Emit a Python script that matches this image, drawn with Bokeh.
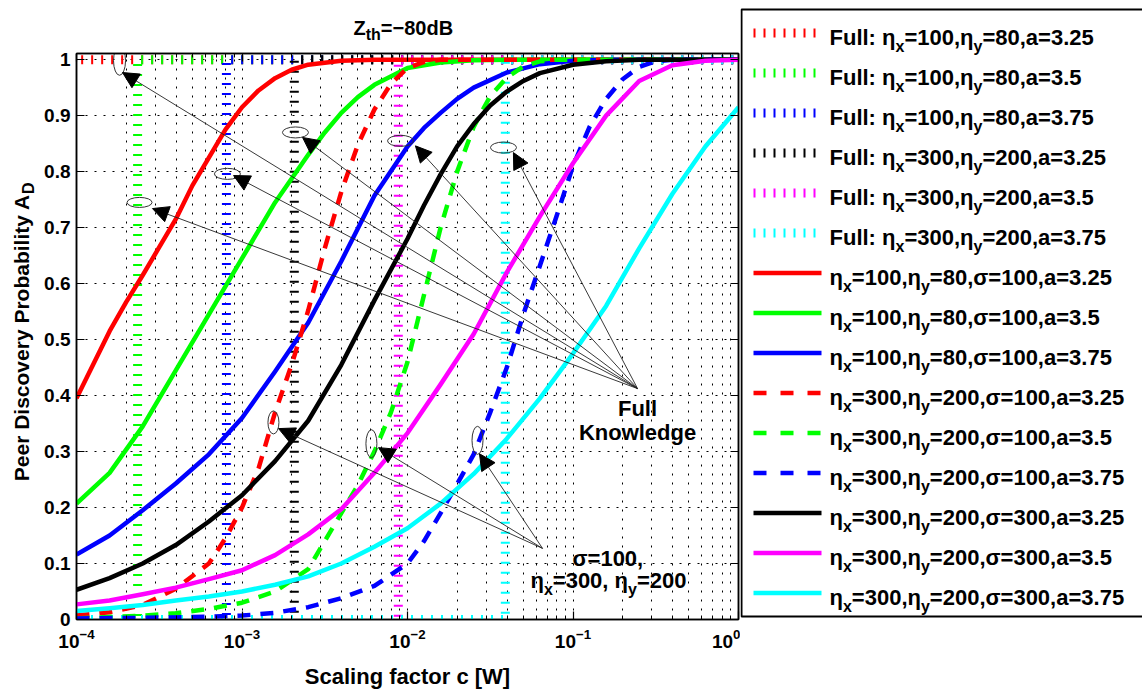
import numpy as np
from bokeh.plotting import figure
from bokeh.layouts import row, column
from bokeh.models import (Range1d, FixedTicker, Label, Arrow, NormalHead,
                          ColumnDataSource, LinearAxis)
from bokeh.core.properties import value
from bokeh.embed import file_html
from bokeh.resources import INLINE

FONT = "Liberation Sans"

# ---------------- data (x as log10 of c [W]) ----------------
red_solid_exp = [-4.0, -3.9, -3.8, -3.7, -3.6, -3.5, -3.4, -3.3, -3.2, -3.1, -3.0, -2.9, -2.8, -2.7, -2.6, -2.4, -2.2, 0.0]
red_solid_val = [0.395, 0.455, 0.515, 0.567, 0.615, 0.665, 0.715, 0.775, 0.825, 0.875, 0.915, 0.945, 0.967, 0.982, 0.991, 0.998, 1.0, 1.0]

green_solid_exp = [-4.0, -3.8, -3.6, -3.4, -3.2, -3.0, -2.8, -2.6, -2.5, -2.4, -2.3, -2.2, -2.0, -1.8, -1.6, -1.4, 0.0]
green_solid_val = [0.207, 0.262, 0.345, 0.445, 0.545, 0.645, 0.745, 0.83, 0.87, 0.905, 0.933, 0.955, 0.985, 0.995, 0.999, 1.0, 1.0]

blue_solid_exp = [-4.0, -3.8, -3.6, -3.4, -3.2, -3.0, -2.8, -2.6, -2.4, -2.2, -2.0, -1.9, -1.8, -1.7, -1.6, -1.4, -1.2, -1.0, -0.8, 0.0]
blue_solid_val = [0.116, 0.15, 0.195, 0.243, 0.295, 0.36, 0.443, 0.53, 0.64, 0.757, 0.845, 0.878, 0.905, 0.93, 0.95, 0.977, 0.992, 0.998, 1.0, 1.0]

red_dash_exp = [-4.0, -3.8, -3.6, -3.4, -3.2, -3.1, -3.0, -2.9, -2.8, -2.7, -2.6, -2.5, -2.4, -2.3, -2.2, -2.1, -2.0, -1.9, -1.8, 0.0]
red_dash_val = [0.007, 0.013, 0.026, 0.055, 0.1, 0.145, 0.2, 0.27, 0.37, 0.455, 0.552, 0.663, 0.764, 0.848, 0.911, 0.957, 0.985, 0.996, 1.0, 1.0]

green_dash_exp = [-4.0, -3.6, -3.4, -3.2, -3.0, -2.8, -2.6, -2.5, -2.4, -2.3, -2.2, -2.1, -2.0, -1.9, -1.8, -1.7, -1.6, -1.5, -1.4, -1.3, -1.2, -1.1, 0.0]
green_dash_val = [0.002, 0.007, 0.011, 0.019, 0.03, 0.05, 0.09, 0.14, 0.19, 0.24, 0.3, 0.37, 0.46, 0.58, 0.7, 0.8, 0.88, 0.935, 0.968, 0.988, 0.997, 1.0, 1.0]

blue_dash_exp = [-4.0, -3.6, -3.2, -3.0, -2.8, -2.6, -2.4, -2.2, -2.0, -1.9, -1.8, -1.7, -1.6, -1.5, -1.4, -1.3, -1.2, -1.1, -1.0, -0.9, -0.8, -0.7, -0.6, -0.5, -0.4, 0.0]
blue_dash_val = [0.002, 0.003, 0.005, 0.007, 0.012, 0.022, 0.038, 0.06, 0.1, 0.14, 0.19, 0.242, 0.295, 0.37, 0.45, 0.545, 0.632, 0.72, 0.81, 0.88, 0.93, 0.965, 0.987, 0.997, 1.0, 1.0]

black_solid_exp = [-4.0, -3.8, -3.6, -3.4, -3.2, -3.0, -2.8, -2.6, -2.4, -2.2, -2.0, -1.9, -1.8, -1.7, -1.6, -1.5, -1.4, -1.3, -1.2, -1.0, -0.8, -0.6, 0.0]
black_solid_val = [0.053, 0.074, 0.1, 0.133, 0.175, 0.222, 0.283, 0.355, 0.455, 0.57, 0.68, 0.74, 0.795, 0.845, 0.885, 0.918, 0.943, 0.962, 0.976, 0.991, 0.997, 1.0, 1.0]

magenta_solid_exp = [-4.0, -3.8, -3.6, -3.4, -3.2, -3.0, -2.8, -2.6, -2.4, -2.2, -2.0, -1.8, -1.6, -1.4, -1.2, -1.0, -0.8, -0.6, -0.4, -0.2, 0.0]
magenta_solid_val = [0.027, 0.034, 0.045, 0.057, 0.072, 0.088, 0.115, 0.152, 0.197, 0.262, 0.333, 0.42, 0.51, 0.62, 0.72, 0.815, 0.9, 0.962, 0.99, 0.998, 1.0]

cyan_solid_exp = [-4.0, -3.8, -3.6, -3.4, -3.2, -3.0, -2.8, -2.6, -2.4, -2.2, -2.0, -1.8, -1.6, -1.4, -1.2, -1.0, -0.8, -0.6, -0.4, -0.2, 0.0]
cyan_solid_val = [0.015, 0.02, 0.026, 0.034, 0.041, 0.05, 0.062, 0.077, 0.1, 0.13, 0.163, 0.207, 0.26, 0.323, 0.395, 0.475, 0.56, 0.663, 0.76, 0.845, 0.915]

# full-knowledge step thresholds (c at which A_D jumps 0 -> 1)
full_threshold = [7.0e-5, 2.34e-4, 8.05e-4, 2.07e-3, 8.8e-3, 3.9e-2]
full_colors = ["#ff0000", "#00ff00", "#0000ff", "#000000", "#ff00ff", "#00ffff"]
full_eta_x = ["100", "100", "100", "300", "300", "300"]
full_eta_y = ["80", "80", "80", "200", "200", "200"]
full_a = ["3.25", "3.5", "3.75", "3.25", "3.5", "3.75"]

curve_exps = [red_solid_exp, green_solid_exp, blue_solid_exp, red_dash_exp, green_dash_exp,
              blue_dash_exp, black_solid_exp, magenta_solid_exp, cyan_solid_exp]
curve_vals = [red_solid_val, green_solid_val, blue_solid_val, red_dash_val, green_dash_val,
              blue_dash_val, black_solid_val, magenta_solid_val, cyan_solid_val]
curve_colors = ["#ff0000", "#00ff00", "#0000ff", "#ff0000", "#00ff00", "#0000ff",
                "#000000", "#ff00ff", "#00ffff"]
curve_dashed = [False, False, False, True, True, True, False, False, False]
curve_eta_x = ["100", "100", "100", "300", "300", "300", "300", "300", "300"]
curve_eta_y = ["80", "80", "80", "200", "200", "200", "200", "200", "200"]
curve_sigma = ["100", "100", "100", "100", "100", "100", "300", "300", "300"]
curve_a = ["3.25", "3.5", "3.75", "3.25", "3.5", "3.75", "3.25", "3.5", "3.75"]

x_ticks = [1e-4, 1e-3, 1e-2, 1e-1, 1.0]
y_ticks = [0, 0.1, 0.2, 0.3, 0.4, 0.5, 0.6, 0.7, 0.8, 0.9, 1.0]
y_tick_labels = ["0", "0.1", "0.2", "0.3", "0.4", "0.5", "0.6", "0.7", "0.8", "0.9", "1"]

# annotation positions (log10 c, A_D)
full_note_src = (-0.610, 0.4125)
full_tips_exp = [-3.722, -3.051, -3.541, -2.634, -1.952, -1.360]
full_tips_val = [0.977, 0.793, 0.734, 0.861, 0.846, 0.834]
sig_note_src = (-1.184, 0.127)
sig_tips_exp = [-2.779, -2.175, -1.565]
sig_tips_val = [0.341, 0.307, 0.296]
ell_exp = [-3.740, -3.088, -3.619, -2.677, -2.042, -1.420, -2.810, -2.218, -1.577]
ell_val = [0.998, 0.796, 0.745, 0.870, 0.855, 0.843, 0.352, 0.314, 0.320]
ell_w = [12, 26, 25, 26, 26, 26, 11, 11, 11]
ell_h = [29, 11, 10, 11, 11, 11, 23, 28, 28]

# Arial/Liberation Sans Bold advance widths (per 1000 em)
W = {' ': 278, ',': 278, '.': 278, ':': 333, '=': 584, '\u2212': 584, '[': 333, ']': 333,
     'F': 611, 'u': 611, 'l': 278, 'a': 556, 'x': 556, 'y': 556, '\u03b7': 611, '\u03c3': 617,
     'Z': 611, 't': 333, 'h': 611, 'd': 611, 'B': 722, 'W': 944, 'c': 556, 'S': 667, 'i': 278,
     'n': 611, 'g': 611, 'f': 333, 'o': 611, 'r': 389, 'K': 722, 'w': 778, 'e': 556, 'P': 667,
     'D': 722, 's': 556, 'v': 556, 'b': 611, 'p': 611, 'A': 722, 'k': 556}
for d in "0123456789":
    W[d] = 556


def tw(s, size):
    return sum(W.get(ch, 556) for ch in s) * size / 1000.0


def blank_fig(w, h, flip=True):
    f = figure(width=w, height=h, x_range=Range1d(0, w),
               y_range=Range1d(h, 0) if flip else Range1d(0, h),
               x_axis_type=None, y_axis_type=None, output_backend="svg",
               toolbar_location=None, min_border_left=0, min_border_right=0,
               min_border_top=0, min_border_bottom=0)
    f.outline_line_color = None
    f.background_fill_color = "white"
    f.border_fill_color = "white"
    f.grid.visible = False
    return f


def put_text(f, xs, ys, texts, size, angle=0.0, align="left", baseline="alphabetic"):
    f.text(x="x", y="y", text="t", source=ColumnDataSource(dict(x=xs, y=ys, t=texts)),
           text_font=value(FONT), text_font_style="bold", text_font_size=f"{size}px",
           text_baseline=baseline, text_align=align, text_color="black", angle=angle)


# ---------------- main figure ----------------
p = figure(width=700, height=620, x_axis_type="log",
           x_range=Range1d(1e-4, 1.0), y_range=Range1d(0, 1.011),
           output_backend="svg", toolbar_location=None,
           min_border_left=36, min_border_right=2, min_border_top=8, min_border_bottom=46)
p.background_fill_color = "white"
p.border_fill_color = "white"
p.outline_line_color = "black"
p.outline_line_width = 1.5

minor = [k * 10.0 ** e for e in range(-4, 0) for k in range(2, 10)]
xt = FixedTicker(ticks=x_ticks, minor_ticks=minor)
yt = FixedTicker(ticks=y_ticks)
p.xaxis.ticker = xt
p.yaxis.ticker = yt
p.yaxis.major_label_overrides = {t: l for t, l in zip(y_ticks, y_tick_labels)}

for ax in [p.xaxis[0], p.yaxis[0]]:
    ax.axis_line_width = 1.5
    ax.major_tick_in = 8
    ax.major_tick_out = 0
    ax.minor_tick_in = 4
    ax.minor_tick_out = 0
    ax.major_tick_line_width = 1.2
    ax.major_label_text_font = FONT
    ax.major_label_text_font_style = "bold"
    ax.major_label_text_font_size = "19px"
    ax.major_label_text_color = "black"
p.yaxis.minor_tick_line_color = None
p.yaxis.major_label_standoff = 6
p.xaxis.major_label_standoff = 9

# box ticks on top and right (labels hidden)
top_ax = LinearAxis(ticker=xt, major_label_text_font_size="1px", major_label_text_alpha=0,
                    major_label_standoff=0, major_tick_in=8, major_tick_out=0,
                    minor_tick_in=4, minor_tick_out=0, axis_line_width=1.5,
                    major_tick_line_width=1.2)
right_ax = LinearAxis(ticker=yt, major_label_text_font_size="1px", major_label_text_alpha=0,
                      major_label_standoff=0, major_tick_in=8, major_tick_out=0,
                      minor_tick_line_color=None, axis_line_width=1.5,
                      major_tick_line_width=1.2)
p.add_layout(top_ax, "above")
p.add_layout(right_ax, "right")

for g in [p.xgrid[0], p.ygrid[0]]:
    g.grid_line_color = "black"
    g.grid_line_dash = "2 7"
    g.grid_line_width = 1
p.xgrid.minor_grid_line_color = "black"
p.xgrid.minor_grid_line_dash = "2 7"
p.xgrid.minor_grid_line_width = 1

# full-knowledge step curves
for thr, col in zip(full_threshold, full_colors):
    p.line(x=[1e-5, thr, thr, 1.0], y=[0, 0, 1, 1], line_color=col, line_width=9,
           line_dash="2 8")

# SINR-based curves
for ex, va, col, dsh in zip(curve_exps, curve_vals, curve_colors, curve_dashed):
    p.line(x=10.0 ** np.array(ex), y=va, line_color=col, line_width=4.5,
           line_dash="13 10" if dsh else "solid", line_join="round")

# ellipses and arrows
p.ellipse(x=10.0 ** np.array(ell_exp), y=ell_val, width=ell_w, height=ell_h,
          width_units="screen", height_units="screen", fill_color=None,
          line_color="#333333", line_width=1)
for ex, va in zip(full_tips_exp, full_tips_val):
    p.add_layout(Arrow(end=NormalHead(size=16, fill_color="black", line_color="black", line_width=1),
                       x_start=10.0 ** full_note_src[0], y_start=full_note_src[1],
                       x_end=10.0 ** ex, y_end=va, line_color="#222222", line_width=0.9))
for ex, va in zip(sig_tips_exp, sig_tips_val):
    p.add_layout(Arrow(end=NormalHead(size=16, fill_color="black", line_color="black", line_width=1),
                       x_start=10.0 ** sig_note_src[0], y_start=sig_note_src[1],
                       x_end=10.0 ** ex, y_end=va, line_color="#222222", line_width=0.9))


def lab(x, y, text, size, dx=0.0, dy=0.0, align="left"):
    p.add_layout(Label(x=x, y=y, x_offset=dx, y_offset=dy, text=text, text_font=FONT,
                       text_font_style="bold", text_font_size=f"{size}px", text_align=align,
                       text_baseline="alphabetic", text_color="black"))


# in-plot notes
fx = 10.0 ** full_note_src[0]
lab(fx, 0.377, "Full", 22, align="center")
lab(fx, 0.334, "Knowledge", 22, align="center")
lab(10.0 ** -1.003, 0.109, "\u03c3=100,", 22)
segs = [("\u03b7", False), ("x", True), ("=300, \u03b7", False), ("y", True), ("=200", False)]
off = 0.0
for s, sub in segs:
    if sub:
        lab(10.0 ** -1.257, 0.0696, s, 16, dx=off, dy=-9)
        off += tw(s, 16)
    else:
        lab(10.0 ** -1.257, 0.0696, s, 22, dx=off)
        off += tw(s, 22)

# ---------------- title / axis-label strips ----------------
title_fig = blank_fig(740, 45)
x0 = 353.0
put_text(title_fig, [x0], [27], ["Z"], 20)
put_text(title_fig, [x0 + tw("Z", 20)], [34], ["th"], 16)
put_text(title_fig, [x0 + tw("Z", 20) + tw("th", 16)], [27], ["=\u221280dB"], 20)

ylab_fig = blank_fig(40, 620, flip=False)
ylab = "Peer Discovery Probability A"
put_text(ylab_fig, [21], [466], [ylab], 21, angle=np.pi / 2, align="right", baseline="middle")
put_text(ylab_fig, [28], [466], ["D"], 16, angle=np.pi / 2, align="left", baseline="middle")

xlab_fig = blank_fig(740, 26)
put_text(xlab_fig, [407], [11], ["Scaling factor c [W]"], 22, align="center")

# ---------------- legend panel ----------------
lg = blank_fig(402, 691)
lg.quad(left=[1], right=[430], top=[9], bottom=[616], fill_color=None,
        line_color="black", line_width=2)

entries = []
for col, ex_, ey_, a_ in zip(full_colors, full_eta_x, full_eta_y, full_a):
    entries.append((col, "dot", [("Full: \u03b7", False), ("x", True), ("=" + ex_ + ",\u03b7", False),
                                 ("y", True), ("=" + ey_ + ",a=" + a_, False)]))
for col, dsh, ex_, ey_, sg, a_ in zip(curve_colors, curve_dashed, curve_eta_x, curve_eta_y,
                                      curve_sigma, curve_a):
    entries.append((col, "dash" if dsh else "solid",
                    [("\u03b7", False), ("x", True), ("=" + ex_ + ",\u03b7", False), ("y", True),
                     ("=" + ey_ + ",\u03c3=" + sg + ",a=" + a_, False)]))

nx, ny, nt, sx, sy, st = [], [], [], [], [], []
for i, (col, style, sgs) in enumerate(entries):
    base = 37 + 40 * i
    ly = base - 4.5
    if style == "dot":
        lg.line(x=[13, 81], y=[ly, ly], line_color=col, line_width=9, line_dash="2 8")
    elif style == "dash":
        lg.line(x=[13, 81], y=[ly, ly], line_color=col, line_width=4.5, line_dash="13 14")
    else:
        lg.line(x=[13, 81], y=[ly, ly], line_color=col, line_width=4.5)
    x = 89.0
    for s, sub in sgs:
        if sub:
            sx.append(x); sy.append(base + 9); st.append(s)
            x += tw(s, 16)
        else:
            nx.append(x); ny.append(base); nt.append(s)
            x += tw(s, 22)

put_text(lg, nx, ny, nt, 22)
put_text(lg, sx, sy, st, 16)

layout = row(column(title_fig, row(ylab_fig, p), xlab_fig), lg)
open("out.html", "w").write(file_html(layout, INLINE, title="Peer discovery probability"))
